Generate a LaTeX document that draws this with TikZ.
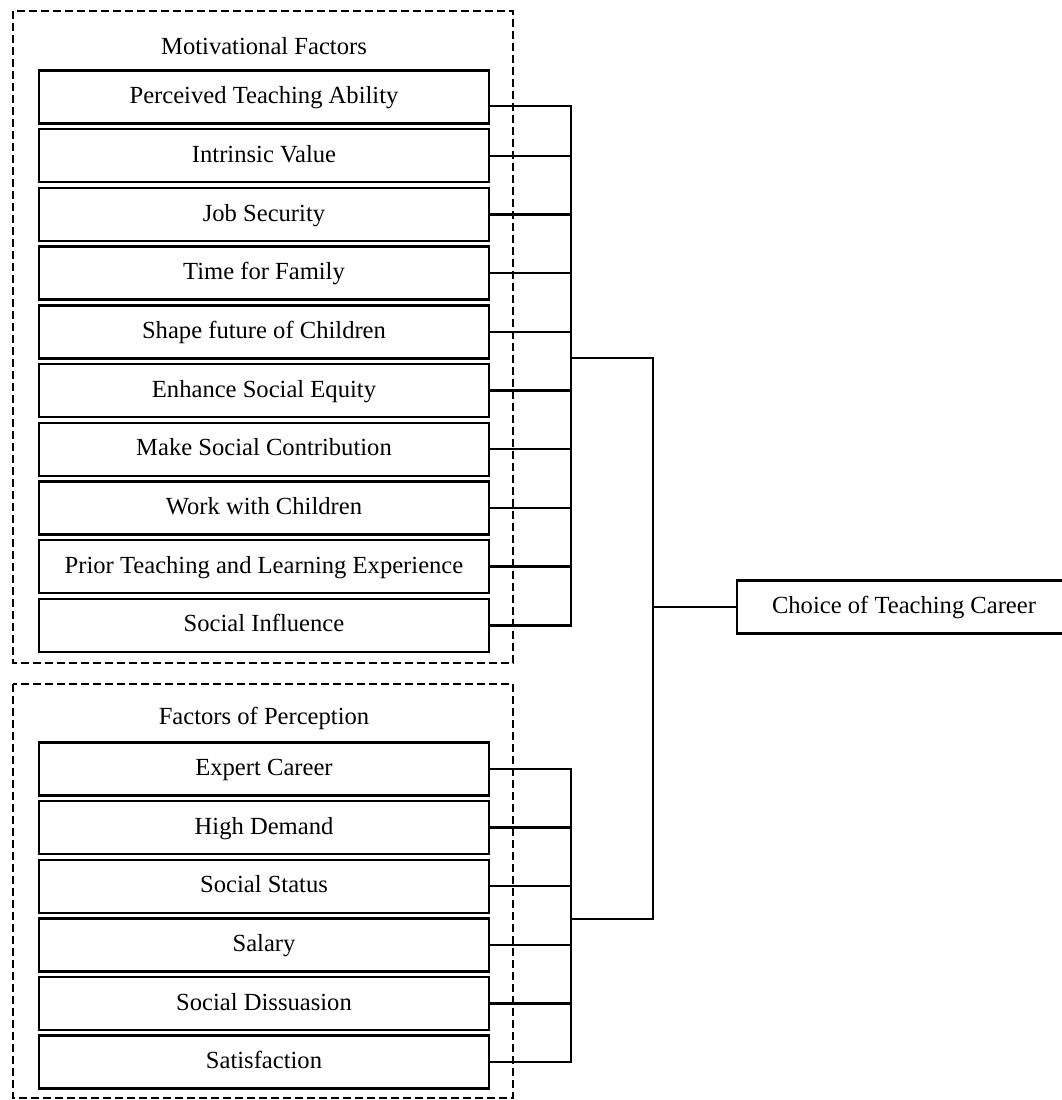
\documentclass[tikz,border=0pt]{standalone}
\usepackage{fontspec}
\setmainfont{Liberation Serif}
\usetikzlibrary{calc}

\begin{document}
\begin{tikzpicture}[x=0.5pt,y=-0.5pt]
		\tikzset{factor/.style={draw, line width=1.2pt, minimum width=225pt, minimum height=26.5pt, inner sep=0pt, text height=.66em, text depth=0pt, font=\fontsize{12.3}{14}\selectfont},
			group/.style={draw, line width=1pt, dash pattern=on 4pt off 2pt},
			heading/.style={font=\fontsize{12.3}{14}\selectfont},
			link/.style={line width=1.2pt}}
		\useasboundingbox (0,0) rectangle (1062,1100);
		\draw[group] (13,11) rectangle (513,663);
		\draw[group] (13,684) rectangle (513,1098);
		\node[heading] (mhead) at (264,46) {Motivational Factors};
		\node[heading] (phead) at (264,718) {Factors of Perception};
		\foreach \t [count=\i] in {Perceived Teaching Ability, Intrinsic Value, Job Security, Time for Family, Shape future of Children, Enhance Social Equity, Make Social Contribution, Work with Children, Prior Teaching and Learning Experience, Social Influence}
			\node[factor] (m\i) at (264,{97+58.7*(\i-1)}) {\t};
		\foreach \t [count=\i] in {Expert Career, High Demand, Social Status, Salary, Social Dissuasion, Satisfaction}
			\node[factor] (p\i) at (264,{769+58.6*(\i-1)}) {\t};
		\node[factor, minimum width=167pt] (choice) at (904,607) {Choice of Teaching Career};
		\coordinate (ubus) at (571,358);
		\coordinate (lbus) at (571,919);
		\coordinate (mbus) at (653,607);
		% upper bundle
		\draw[link] ($(m1.east)+(0,9)$) -- ($(m1.east -| ubus)+(0,9)$) -- (m10.east -| ubus) -- (m10.east);
		\foreach \i in {2,...,9}
			\draw[link] (m\i.east) -- (m\i.east -| ubus);
		% lower bundle
		\draw[link] (p1.east) -- (p1.east -| lbus) -- (p6.east -| lbus) -- (p6.east);
		\foreach \i in {2,...,5}
			\draw[link] (p\i.east) -- (p\i.east -| lbus);
		\draw[link] (ubus) -- (ubus -| mbus) -- (lbus -| mbus) -- (lbus);
		\draw[link] (mbus) -- (choice.west);
	\end{tikzpicture}
\end{document}
